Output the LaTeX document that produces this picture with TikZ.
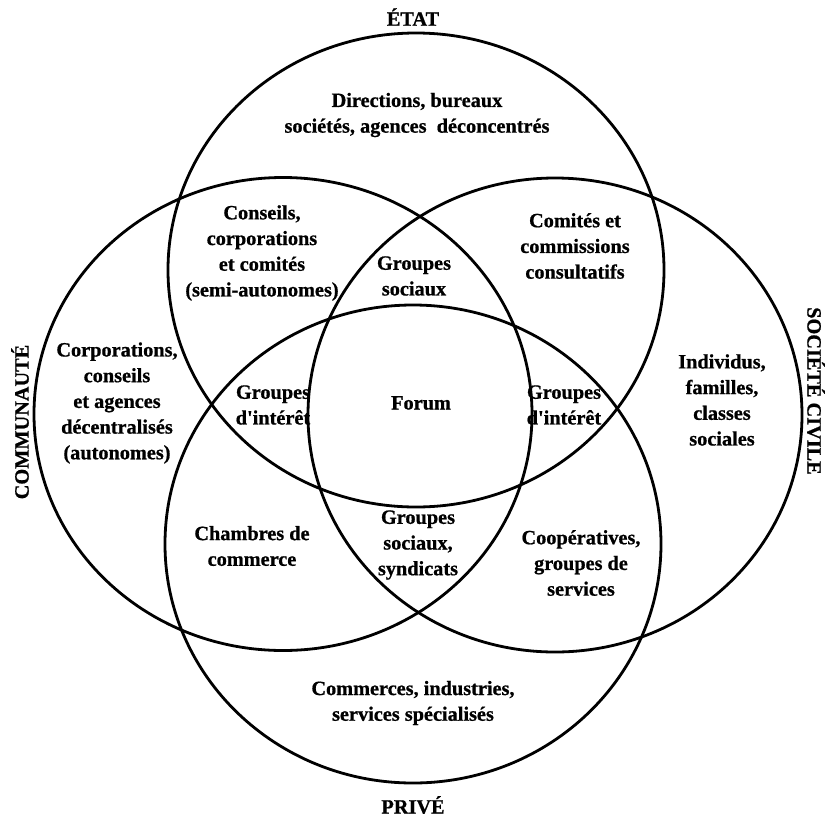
\documentclass[tikz,border=0pt]{standalone}
\usepackage{fontspec}
\setmainfont{Liberation Serif}[BoldFeatures={FakeBold=0.8}]
\usetikzlibrary{shapes.geometric}
\tikzset{
  ring/.style={draw=black, ellipse, line width=2.8pt, inner sep=0pt},
  lbl/.style={font=\fontsize{20.3}{25.7}\selectfont\bfseries, align=center, inner sep=0pt, text=black}
}
\begin{document}
\begin{tikzpicture}[x=1pt, y=-1pt]
\useasboundingbox[fill=white] (0,0) rectangle (828,817);
% circles
\node[ring, minimum width=496pt, minimum height=474pt] (etat) at (416,270) {};
\node[ring, minimum width=498pt, minimum height=473pt] (comm) at (283,414) {};
\node[ring, minimum width=494pt, minimum height=474pt] (soc) at (555,415) {};
\node[ring, minimum width=496pt, minimum height=478pt] (prive) at (413,544) {};
% outer labels
\node[lbl] (tEtat) at (413,17) {ÉTAT};
\node[lbl] (tPrive) at (413,805) {PRIVÉ};
\node[lbl, rotate=90] (tComm) at (20,422) {COMMUNAUTÉ};
\node[lbl, rotate=-90] (tSoc) at (816,391) {SOCIÉTÉ CIVILE};
% region labels
\node[lbl] (l1) at (417,115) {Directions, bureaux\\sociétés, agences\ \ déconcentrés};
\node[lbl] (l2) at (262,253) {Conseils,\\corporations\\et comités\\(semi-autonomes)};
\node[lbl] (l3) at (414,276) {Groupes\\sociaux};
\node[lbl] (l4) at (575,246) {Comités et\\commissions\\consultatifs};
\node[lbl] (l5) at (117,403) {Corporations,\\conseils\\et agences\\décentralisés\\(autonomes)};
\node[lbl] (l6) at (273,405) {Groupes\\d\textquotesingle intérêt};
\node[lbl] (l7) at (421,403) {Forum};
\node[lbl] (l8) at (564,405) {Groupes\\d\textquotesingle intérêt};
\node[lbl] (l9) at (722,400) {Individus,\\familles,\\classes\\sociales};
\node[lbl] (l10) at (252,546) {Chambres de\\commerce};
\node[lbl] (l11) at (418,545) {Groupes\\sociaux,\\syndicats};
\node[lbl] (l12) at (581,563) {Coopératives,\\groupes de\\services};
\node[lbl] (l13) at (413,703) {Commerces, industries,\\services spécialisés};
\end{tikzpicture}
\end{document}
